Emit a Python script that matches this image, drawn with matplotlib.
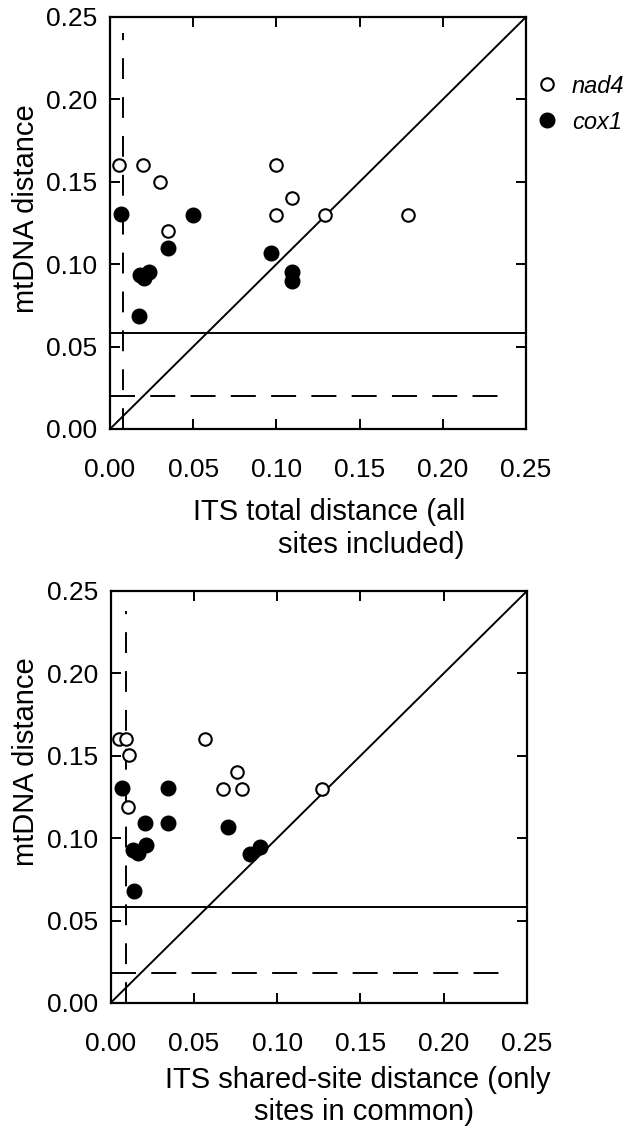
import matplotlib
matplotlib.use("Agg")
import matplotlib.pyplot as plt
from matplotlib.ticker import FormatStrFormatter

plt.rcParams['font.family'] = ['Liberation Sans', 'DejaVu Sans']
plt.rcParams['lines.scale_dashes'] = False

# top panel: ITS total distance vs mtDNA distance
total_nad4_x = [0.0056, 0.020, 0.030, 0.0347, 0.0995, 0.0995, 0.1096, 0.129, 0.179]
total_nad4_y = [0.160, 0.160, 0.150, 0.120, 0.160, 0.130, 0.140, 0.130, 0.130]
total_cox1_x = [0.0064, 0.050, 0.0347, 0.097, 0.018, 0.0206, 0.0236, 0.1096, 0.1096, 0.0176]
total_cox1_y = [0.1305, 0.130, 0.110, 0.107, 0.0934, 0.0918, 0.0955, 0.095, 0.0896, 0.0686]

# bottom panel: ITS shared-site distance vs mtDNA distance
shared_nad4_x = [0.0053, 0.0093, 0.0114, 0.0108, 0.0567, 0.0673, 0.076, 0.0787, 0.127]
shared_nad4_y = [0.160, 0.160, 0.1505, 0.119, 0.160, 0.130, 0.140, 0.130, 0.130]
shared_cox1_x = [0.0068, 0.0347, 0.0207, 0.0347, 0.0706, 0.0133, 0.0163, 0.0213, 0.084, 0.090, 0.0144]
shared_cox1_y = [0.1303, 0.1303, 0.1094, 0.1094, 0.1066, 0.0928, 0.0908, 0.0959, 0.0904, 0.0947, 0.068]

# reference lines (threshold values)
mt_threshold = 0.058
mt_dash = [0.020, 0.018]
its_dash = [0.0078, 0.0094]
its_dash_top = [0.240, 0.238]

ticks = [0.0, 0.05, 0.10, 0.15, 0.20, 0.25]
# x labels, each line placed on its own (axes coords, baseline)
xlabel_lines = [
    [("ITS total distance (all", 0.526, -0.221), ("sites included)", 0.627, -0.301)],
    [("ITS shared-site distance (only", 0.594, -0.206), ("sites in common)", 0.609, -0.284)],
]
ylabel_y = [0.536, 0.585]

fig = plt.figure(figsize=(6.29, 11.26), dpi=100)
ax_top = fig.add_axes([110 / 629, 1 - 429 / 1126, 416 / 629, 412 / 1126])
ax_bot = fig.add_axes([110.5 / 629, 1 - 1003 / 1126, 416.5 / 629, 412 / 1126])

panels = [
    (ax_top, total_nad4_x, total_nad4_y, total_cox1_x, total_cox1_y),
    (ax_bot, shared_nad4_x, shared_nad4_y, shared_cox1_x, shared_cox1_y),
]

for i, (ax, nx, ny, cx, cy) in enumerate(panels):
    ax.set_xlim(0, 0.25)
    ax.set_ylim(0, 0.25)

    # 1:1 line, threshold lines
    ax.plot([0, 0.25], [0, 0.25], color='black', lw=1.4)
    ax.axhline(mt_threshold, color='black', lw=1.4)
    ax.plot([0, 0.236], [mt_dash[i], mt_dash[i]], color='black', lw=1.4,
            dashes=(18, 11))
    ax.plot([its_dash[i], its_dash[i]], [0, its_dash_top[i]], color='black',
            lw=1.4, dashes=(15, 13))

    ax.plot(cx, cy, 'o', color='black', ms=10.5, ls='none', label='cox1', zorder=3)
    ax.plot(nx, ny, 'o', mfc='white', mec='black', mew=1.5, ms=9, ls='none',
            label='nad4', zorder=4)

    ax.set_xticks(ticks)
    ax.set_yticks(ticks)
    ax.xaxis.set_major_formatter(FormatStrFormatter('%.2f'))
    ax.yaxis.set_major_formatter(FormatStrFormatter('%.2f'))
    ax.tick_params(direction='in', top=True, right=True, length=7, width=1.4,
                   labelsize=19)
    ax.tick_params(axis='x', pad=21)
    ax.tick_params(axis='y', pad=9)
    for s in ax.spines.values():
        s.set_linewidth(1.6)

    ax.text(-0.202, ylabel_y[i], 'mtDNA distance', transform=ax.transAxes,
            rotation=90, ha='center', va='center', fontsize=21)
    for txt, lx, ly in xlabel_lines[i]:
        ax.text(lx, ly, txt, transform=ax.transAxes, ha='center',
                va='baseline', fontsize=21)

# legend for top panel, outside right
h, l = ax_top.get_legend_handles_labels()
leg = ax_top.legend(h[::-1], l[::-1], loc='upper left',
                    bbox_to_anchor=(1.0216, 0.86), frameon=False,
                    handletextpad=0.56, labelspacing=0.55, handlelength=1.0,
                    borderaxespad=0, borderpad=0,
                    prop={'style': 'italic', 'size': 17})

fig.savefig('out.png', dpi=100)
